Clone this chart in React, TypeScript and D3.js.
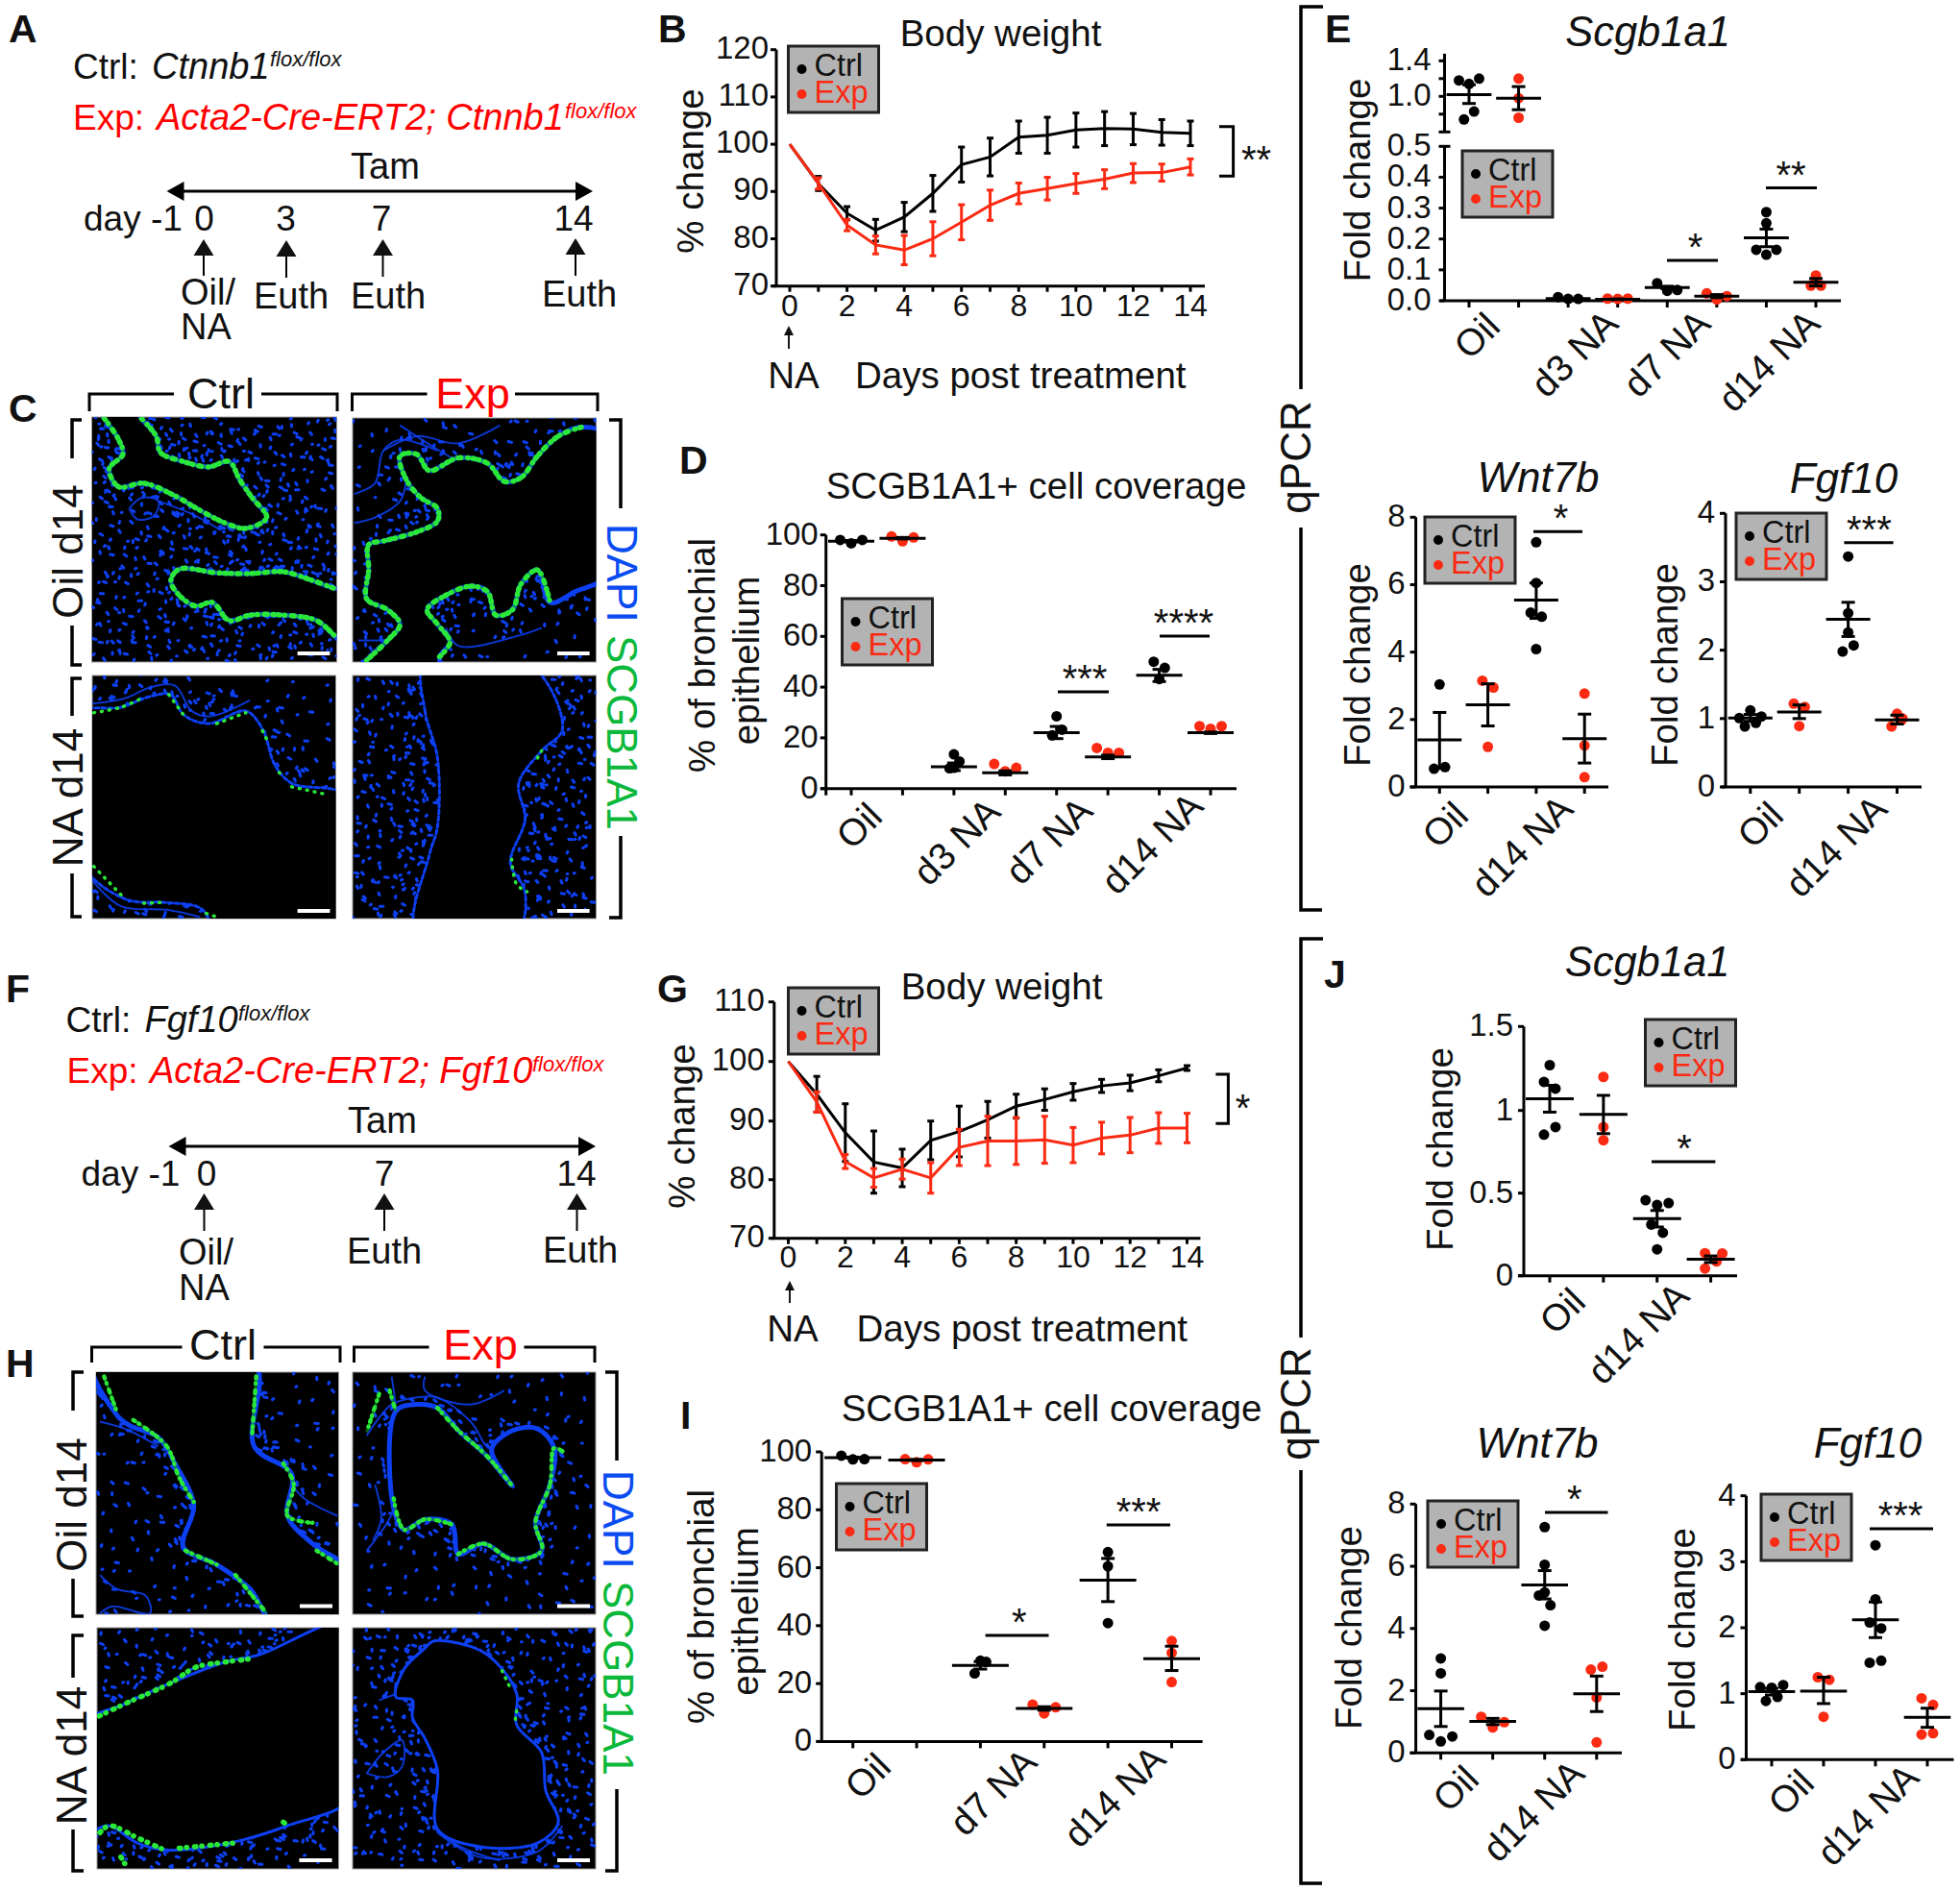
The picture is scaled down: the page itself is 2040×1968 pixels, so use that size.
import React from "react";
import * as d3 from "d3";

// ---------- DATA: body weight (panels B, G) ----------
const days = [0, 1, 2, 3, 4, 5, 6, 7, 8, 9, 10, 11, 12, 13, 14];
const dayLabels = [0, 2, 4, 6, 8, 10, 12, 14];
const bCtrl = [100, 91.7, 85.4, 81.8, 84.6, 89.6, 95.7, 97.3, 101.5, 101.9, 103, 103.3, 103.2, 102.5, 102.3];
const bCtrlErr = [0, 1.5, 1.4, 2.3, 3.1, 3.8, 3.7, 4, 3.4, 3.8, 3.6, 3.6, 3.3, 2.7, 2.6];
const bExp = [100, 91.7, 82.9, 78.7, 77.6, 80, 83.5, 87.1, 89.6, 90.6, 91.7, 92.6, 93.9, 94, 95.2];
const bExpErr = [0, 1.2, 1.2, 1.9, 3.1, 3.6, 3.7, 3.2, 2.2, 2.4, 2.1, 2, 2, 1.8, 1.7];
const gCtrl = [100, 94.5, 88, 83, 82, 86.7, 88.2, 90.2, 92.5, 93.6, 94.9, 95.9, 96.4, 97.6, 98.9];
const gCtrlErr = [0, 3, 4.9, 5.3, 3.2, 3.3, 4.3, 3.1, 2, 1.8, 1.4, 1.1, 1.3, 1, 0.4];
const gExp = [100, 93.2, 83.1, 80.3, 81.8, 80.3, 85.5, 86.6, 86.6, 86.8, 85.9, 87.1, 87.6, 88.8, 88.8];
const gExpErr = [0, 1.7, 1.2, 1.6, 1.7, 2.6, 3.1, 4.2, 4, 4, 3, 2.7, 3, 2.6, 2.5];

// ---------- DATA: dot plots ----------
const dVals = [[98, 96.7, 98], [99.4, 97.5, 99], [13.5, 10.7, 8.2, 8], [9.7, 6.8, 8.2], [28.5, 23.2, 21], [16, 14.1, 14.1], [50, 47.6, 43.2], [24.6, 23.6, 24.6]];
const dJit = [[-1, 0, 1], [-1, 0, 1], [0, 0.5, 0, -0.4], [-1, 0, 1], [0, 0.5, -0.4], [-1, 0, 1], [-0.5, 0.5, 0], [-1, 0, 1]];
const dMean = [97.5, 98.7, 8.6, 6.2, 22, 12.5, 44.7, 22];
const dHi = [97.8, 99, 10.1, 7, 24.5, 13.2, 47, 22.3];
const dLo = [97.2, 98.4, 7.1, 5.4, 19.7, 11.8, 42.2, 21.7];

const eVals = [[1.18, 1.2, 1.14, 0.83, 0.74], [1.2, 0.98, 0.76], [0.012, 0.006, 0.006], [0.007, 0.006, 0.007], [0.057, 0.032, 0.035], [0.024, 0.004, 0.015], [0.287, 0.251, 0.165, 0.165, 0.149], [0.082, 0.07, 0.049, 0.049]];
const eJit = [[-1, 1, 0, 0.5, -0.5], [0, 0, 0], [-1, 0, 1], [-1, 0, 1], [-1, 0, 1], [-1, 0, 1], [0, 0, -1, 1, 0], [0, 0, -0.5, 0.5]];
const eMean = [1.02, 0.98, 0.007, 0.005, 0.043, 0.015, 0.204, 0.06];
const eHi = [1.13, 1.11, 0.008, 0.006, 0.047, 0.02, 0.232, 0.072];
const eLo = [0.92, 0.85, 0.006, 0.004, 0.039, 0.01, 0.175, 0.048];

const wAVals = [[3.04, 0.54, 0.59], [3.15, 2.95, 1.19], [7.26, 6.05, 5.17, 5.05, 4.09], [2.77, 1.23, 0.29]];
const wAJit = [[0, -0.5, 0.5], [-0.5, 0.5, 0], [0, 0, -0.5, 0.5, 0], [0, 0, 0]];
const wAMean = [1.4, 2.44, 5.54, 1.43];
const wAHi = [2.21, 3.06, 6.05, 2.16];
const wALo = [0.55, 1.81, 5.0, 0.71];

const fAVals = [[1.007, 1.12, 1.03, 0.885, 0.937], [1.218, 1.17, 0.89], [3.37, 2.54, 2.26, 2.07, 1.98], [1.07, 1.0, 0.885, 0.98]];
const fAJit = [[-1, 0, 1, -0.5, 0.5], [-0.5, 0.5, 0], [0, 0, 0, 0.5, -0.5], [0, 0.5, -0.5, 0.4]];
const fAMean = [1.007, 1.096, 2.45, 0.98];
const fAHi = [1.06, 1.2, 2.7, 1.05];
const fALo = [0.96, 1.0, 2.2, 0.92];

const iVals = [[98.7, 97.4, 97.5], [97.5, 96.4, 97.4], [27.9, 27.5, 23.5], [12.7, 11.8, 9.7], [65.4, 60.5, 40.9], [34.7, 30.6, 20.5]];
const iJit = [[-1, 0, 1], [-1, 0, 1], [0, 0.5, -0.5], [-1, 1, 0], [0, 0, 0], [0, 0, 0]];
const iMean = [98, 97.2, 26.3, 11.4, 55.7, 28.6];
const iHi = [98.2, 97.4, 27.6, 12, 63.2, 32.9];
const iLo = [97.8, 97, 25, 10.8, 48.3, 24.5];

const jVals = [[1.27, 1.17, 1.13, 0.9, 0.854], [1.2, 0.9, 0.82], [0.457, 0.428, 0.44, 0.31, 0.26, 0.16], [0.137, 0.135, 0.087, 0.044]];
const jJit = [[0, -0.5, 0.5, 0.5, -0.5], [0, 0, 0], [-1, 0, 1, -0.5, 0.5, 0], [-0.5, 1, 0.5, -0.5]];
const jMean = [1.07, 0.976, 0.345, 0.1];
const jHi = [1.15, 1.09, 0.395, 0.12];
const jLo = [0.99, 0.86, 0.295, 0.08];

const wBVals = [[3.04, 2.56, 0.58, 0.53, 0.37], [1.16, 0.82, 0.99], [7.26, 6.05, 5.16, 5.06, 4.75, 4.09], [2.68, 2.77, 1.78, 0.34]];
const wBJit = [[0, 0, -1, 1, 0], [-1, 0, 1], [0, 0, 0, -0.5, 0.5, 0], [-0.5, 0.5, 0, 0]];
const wBMean = [1.42, 1.01, 5.4, 1.9];
const wBHi = [1.99, 1.11, 5.86, 2.47];
const wBLo = [0.85, 0.91, 4.95, 1.33];

const fBVals = [[1.1, 1.09, 1.13, 0.89, 0.95], [1.25, 1.21, 0.65], [3.25, 2.43, 2.08, 1.99, 1.47, 1.5], [0.93, 0.83, 0.38, 0.4]];
const fBJit = [[-1, 0, 1, -0.5, 0.5], [-0.5, 0.5, 0], [0, 0, -0.5, 0.5, -0.5, 0.5], [-0.5, 0.5, -0.5, 0.5]];
const fBMean = [1.03, 1.04, 2.12, 0.64];
const fBHi = [1.08, 1.25, 2.39, 0.78];
const fBLo = [0.98, 0.85, 1.85, 0.49];

const cats4 = ["Oil", "d3 NA", "d7 NA", "d14 NA"];
const cats3 = ["Oil", "d7 NA", "d14 NA"];
const cats2 = ["Oil", "d14 NA"];
const ticks100 = [0, 20, 40, 60, 80, 100];
const ticksFold8 = [0, 2, 4, 6, 8];
const ticksFold4 = [0, 1, 2, 3, 4];

// ---------- colours ----------
const INK = "#111";
const RED = "#fb2a12";
const PURE_RED = "#ff0000";
const GRAY = "#b3b3b3";
const BLUE = "#0b3ff2";
const GREEN = "#2ce838";
const GREEN_DIM = "#119a26";
const DAPI_TEXT = "#0a4cf0";
const SCGB_TEXT = "#0cb83a";
const FONT = "'Liberation Sans', Arial, sans-serif";

type TP = { x: number; y: number; s?: number; a?: "start" | "middle" | "end"; f?: string; b?: boolean; i?: boolean; r?: number; children: React.ReactNode };
const T = ({ x, y, s = 33, a = "start", f = INK, b, i, r, children }: TP) => (
  <text
    x={r === undefined ? x : 0}
    y={r === undefined ? y : 0}
    transform={r === undefined ? undefined : `translate(${x},${y}) rotate(${r})`}
    fontSize={s}
    textAnchor={a}
    fill={f}
    fontWeight={b ? 700 : 400}
    fontStyle={i ? "italic" : "normal"}
  >
    {children}
  </text>
);

const Ln = ({ p, w = 3, c = "#000" }: { p: number[][]; w?: number; c?: string }) => (
  <path d={d3.line()(p as [number, number][]) as string} fill="none" stroke={c} strokeWidth={w} />
);

const Legend = ({ x, y }: { x: number; y: number }) => (
  <g>
    <rect x={x} y={y} width={94} height={69} fill={GRAY} stroke="#222" strokeWidth={3} />
    <circle cx={x + 14} cy={y + 24} r={5} fill="#000" />
    <circle cx={x + 14} cy={y + 50} r={5} fill={RED} />
    <T x={x + 27} y={y + 31} s={32.5}>Ctrl</T>
    <T x={x + 27} y={y + 59} s={32.5} f={RED}>Exp</T>
  </g>
);

const Stars = ({ t, x, y, x1, x2 }: { t: string; x: number; y: number; x1?: number; x2?: number }) => (
  <g>
    <T x={x} y={y} s={40} a="middle">{t}</T>
    {x1 !== undefined && x2 !== undefined && <Ln p={[[x1, y], [x2, y]]} />}
  </g>
);

// ---------- Dot plot ----------
type DotCfg = {
  vals: number[][]; jit: number[][]; mean: number[]; hi: number[]; lo: number[];
  ax: number; x0: number; x1: number; xEnd: number; xStart: number;
  yDom: number[]; yRng: number[]; ticks: number[]; labels: string[];
  half: number; jitPx?: number; originTick?: boolean; segs?: number[][]; breaks?: number[];
  cats: string[]; catX: number[]; catY: number[]; labelGap?: number;
};
const DotPlot = (c: DotCfg) => {
  const n = c.vals.length;
  const x = d3.scaleLinear().domain([0, n - 1]).range([c.x0, c.x1]);
  const y = d3.scaleLinear().domain(c.yDom).range(c.yRng);
  const base = y(0);
  const segs = c.segs ?? [[0, d3.max(c.ticks) as number]];
  const jp = c.jitPx ?? 11.5;
  return (
    <g>
      {segs.map((s, i) => <Ln key={i} p={[[c.ax, y(s[0])], [c.ax, y(s[1])]]} />)}
      <Ln p={[[c.xStart, base], [c.xEnd, base]]} />
      {c.ticks.map((t, i) => (
        <g key={i}>
          <Ln p={[[c.ax - 6, y(t)], [c.breaks?.includes(t) ? c.ax + 6 : c.ax, y(t)]]} />
          {c.labels[i] && <T x={c.ax - (c.labelGap ?? 11)} y={y(t) + 10} a="end">{c.labels[i]}</T>}
        </g>
      ))}
      {d3.range(n).map(i => <Ln key={i} p={[[x(i), base], [x(i), base + 7]]} />)}
      {c.originTick && <Ln p={[[c.ax, base], [c.ax, base + 7]]} />}
      {c.vals.map((g, i) => (
        <g key={i}>
          {g.map((v, j) => (
            <circle key={j} cx={x(i) + c.jit[i][j] * jp} cy={y(v)} r={5.5} fill={i % 2 ? RED : "#000"} />
          ))}
          <Ln p={[[x(i) - c.half, y(c.mean[i])], [x(i) + c.half, y(c.mean[i])]]} />
          <Ln p={[[x(i), y(c.hi[i])], [x(i), y(c.lo[i])]]} />
          <Ln p={[[x(i) - 7, y(c.hi[i])], [x(i) + 7, y(c.hi[i])]]} />
          <Ln p={[[x(i) - 7, y(c.lo[i])], [x(i) + 7, y(c.lo[i])]]} />
        </g>
      ))}
      {c.cats.map((t, i) => <T key={t} x={c.catX[i] + 2.5} y={c.catY[i]} s={39} a="end" r={-45}>{t}</T>)}
    </g>
  );
};

// ---------- Line chart ----------
type LineCfg = {
  ctrl: number[]; ctrlErr: number[]; exp: number[]; expErr: number[];
  ax: number; x0: number; x1: number; xEnd: number; gap: number;
  yDom: number[]; yRng: number[]; ticks: number[]; tickBase: number;
};
const LineChart = (c: LineCfg) => {
  const x = d3.scaleLinear().domain([0, 14]).range([c.x0, c.x1]);
  const y = d3.scaleLinear().domain(c.yDom).range(c.yRng);
  const line = d3.line<number>().x((_, i) => x(days[i])).y(v => y(v));
  const series = (vals: number[], err: number[], col: string) => (
    <g>
      {vals.map((v, i) => err[i] > 0 && (
        <g key={i}>
          <Ln c={col} p={[[x(days[i]), y(v - err[i])], [x(days[i]), y(v + err[i])]]} />
          <Ln c={col} p={[[x(days[i]) - 3.5, y(v + err[i])], [x(days[i]) + 3.5, y(v + err[i])]]} />
          <Ln c={col} p={[[x(days[i]) - 3.5, y(v - err[i])], [x(days[i]) + 3.5, y(v - err[i])]]} />
        </g>
      ))}
      <path d={line(vals) as string} fill="none" stroke={col} strokeWidth={3} />
    </g>
  );
  return (
    <g>
      <Ln p={[[c.ax, y(c.ticks[c.ticks.length - 1])], [c.ax, c.yRng[0]]]} />
      <Ln p={[[c.ax - 4, c.yRng[0]], [c.xEnd, c.yRng[0]]]} />
      {c.ticks.map(t => (
        <g key={t}>
          <Ln p={[[c.ax - 6, y(t)], [c.ax, y(t)]]} />
          <T x={c.ax - c.gap} y={y(t) + 9} a="end">{t}</T>
        </g>
      ))}
      {days.map(d => <Ln key={d} p={[[x(d), c.yRng[0]], [x(d), c.yRng[0] + 6]]} />)}
      {dayLabels.map(d => <T key={d} x={x(d)} y={c.tickBase} s={32} a="middle">{d}</T>)}
      {series(c.ctrl, c.ctrlErr, "#000")}
      {series(c.exp, c.expErr, RED)}
    </g>
  );
};

// ---------- Micrograph panels (decorative drawing of the tissue images) ----------
type Pt = [number, number];
type Micro = {
  x: number; y: number; w: number; h: number; bar: number[];
  lumens: Pt[][]; green: Pt[][]; fibers: Pt[][]; dense?: number; seed: number;
  rich?: boolean; edgeDots?: boolean; band?: number; gw?: number;
};
const cPt = (l: Pt[]): Pt[] => l.map(p => [p[0] / 2.306, 390 + p[1] / 2.658]);
const hPt = (l: Pt[]): Pt[] => l.map(p => [p[0] / 2.306, 1400 + p[1] / 2.76]);

const c1Lumen1: Pt[] = [[240, 90], [250, 120], [285, 180], [295, 220], [262, 260], [285, 310], [345, 300], [420, 335], [480, 375], [540, 410], [590, 425], [640, 395], [605, 340], [575, 290], [550, 240], [500, 255], [440, 240], [385, 215], [375, 170], [340, 122], [320, 90]];
const c1Lumen2: Pt[] = [[840, 600], [800, 590], [740, 565], [680, 545], [600, 550], [520, 548], [430, 538], [410, 570], [430, 610], [470, 640], [510, 630], [550, 680], [600, 665], [680, 665], [760, 680], [805, 725], [840, 760]];
const c2Lumen: Pt[] = [[1460, 170], [1395, 145], [1340, 170], [1290, 225], [1250, 285], [1210, 295], [1170, 245], [1100, 230], [1030, 265], [1000, 220], [960, 225], [975, 290], [1010, 340], [1050, 370], [1050, 405], [1000, 435], [920, 460], [885, 470], [885, 540], [880, 620], [930, 650], [960, 690], [930, 735], [880, 790], [870, 830], [1060, 830], [1055, 780], [1080, 740], [1050, 690], [1025, 650], [1070, 610], [1130, 585], [1170, 600], [1190, 665], [1230, 650], [1250, 580], [1290, 540], [1320, 630], [1380, 600], [1460, 550]];
const c3Lumen: Pt[] = [[190, 938], [290, 920], [360, 890], [410, 885], [440, 940], [500, 965], [590, 930], [630, 980], [660, 1080], [700, 1130], [840, 1170], [840, 1540], [530, 1540], [480, 1475], [400, 1460], [300, 1450], [190, 1340]];
const c4Lumen: Pt[] = [[1020, 800], [1020, 930], [1050, 1060], [1050, 1250], [1030, 1330], [1000, 1540], [1240, 1540], [1260, 1430], [1225, 1350], [1260, 1230], [1245, 1130], [1300, 1040], [1350, 980], [1270, 800]];

const h1Lumen: Pt[] = [[225, 50], [280, 200], [310, 230], [380, 265], [420, 340], [465, 460], [440, 580], [520, 630], [600, 700], [660, 800], [840, 800], [840, 650], [750, 570], [690, 490], [700, 370], [610, 290], [610, 50]];
const h2Lumen: Pt[] = [[950, 190], [1000, 170], [1050, 180], [1100, 245], [1170, 320], [1230, 405], [1180, 300], [1230, 245], [1290, 240], [1330, 295], [1320, 400], [1285, 510], [1300, 590], [1230, 615], [1160, 570], [1100, 600], [1085, 515], [1020, 500], [970, 530], [945, 470]];
const h3Lumen: Pt[] = [[200, 1090], [300, 1030], [410, 970], [540, 910], [620, 890], [850, 800], [850, 1290], [690, 1380], [550, 1430], [400, 1450], [330, 1430], [260, 1380], [200, 1400]];
const h4Lumen: Pt[] = [[1040, 850], [1140, 870], [1190, 910], [1240, 1000], [1240, 1090], [1300, 1170], [1310, 1280], [1340, 1370], [1290, 1430], [1150, 1440], [1050, 1390], [1050, 1220], [1020, 1130], [990, 1070], [990, 1020], [950, 1010], [970, 930], [1020, 870]];

const microPanels: Micro[] = [
  {
    x: 95.5, y: 434, w: 255, h: 255, bar: [309.6, 343.4, 680], seed: 3, rich: true,
    lumens: [cPt(c1Lumen1), cPt(c1Lumen2)],
    green: [cPt(c1Lumen1.slice(1, 20)), cPt(c1Lumen2.slice(1, 16))],
    fibers: [cPt([[310, 370], [340, 340], [380, 350], [370, 390], [330, 400], [310, 370]]), cPt([[380, 350], [460, 385], [530, 430]])],
    dense: 300, band: 10,
  },
  {
    x: 367, y: 435, w: 253.5, h: 254, bar: [580, 613.6, 680], seed: 5, rich: true,
    lumens: [cPt(c2Lumen)],
    green: [cPt(c2Lumen.slice(1, 24)), cPt(c2Lumen.slice(26, 38))],
    fibers: [cPt([[850, 330], [900, 300], [920, 210], [960, 180], [1050, 210]]), cPt([[850, 410], [900, 395], [960, 350], [975, 290]]), cPt([[920, 210], [1000, 170], [1100, 190], [1200, 140]]), cPt([[960, 140], [1040, 200], [1100, 240]]), cPt([[1070, 700], [1100, 750], [1250, 720], [1300, 700]]), cPt([[860, 735], [930, 735]])],
    dense: 90, band: 14,
  },
  {
    x: 96, y: 703, w: 253.5, h: 253, bar: [309.6, 343.4, 948], seed: 7, edgeDots: true,
    lumens: [cPt(c3Lumen)],
    green: [cPt([[225, 935], [290, 920], [345, 892]]), cPt([[405, 885], [440, 940]]), cPt([[520, 965], [590, 935]]), cPt([[630, 985], [645, 1020]]), cPt([[670, 1100], [680, 1115]]), cPt([[700, 1140], [780, 1160]]), cPt([[225, 1360], [300, 1450]]), cPt([[345, 1462], [385, 1460]]), cPt([[495, 1490], [520, 1500]])],
    fibers: [cPt([[222, 910], [300, 895], [360, 865], [420, 860], [460, 930], [505, 945], [600, 900]]), cPt([[222, 1400], [290, 1470], [400, 1480], [480, 1500]])],
    dense: 90, band: 16,
  },
  {
    x: 367, y: 703, w: 253.5, h: 253, bar: [580, 613.6, 948], seed: 11, edgeDots: true,
    lumens: [cPt(c4Lumen)],
    green: [cPt([[1290, 1060], [1300, 1040]]), cPt([[1228, 1340], [1240, 1410], [1265, 1430]])],
    fibers: [],
    dense: 260, band: 18,
  },
  {
    x: 100, y: 1428, w: 252.5, h: 252, bar: [312, 346, 1671.5], seed: 13, rich: true,
    lumens: [hPt(h1Lumen)],
    green: [hPt([[250, 90], [280, 190]]), hPt([[320, 215], [400, 290], [430, 380], [465, 450]]), hPt([[445, 590], [520, 630]]), hPt([[565, 660], [640, 770]]), hPt([[615, 90], [605, 260]]), hPt([[680, 340], [705, 400], [690, 490], [750, 510]]), hPt([[760, 590], [813, 630]])],
    fibers: [hPt([[240, 660], [280, 700], [350, 720], [360, 770], [270, 750], [240, 770]]), hPt([[240, 220], [300, 240], [380, 290]]), hPt([[700, 400], [730, 440], [810, 490]])],
    dense: 100, band: 8, gw: 4.5,
  },
  {
    x: 367, y: 1428, w: 253, h: 252, bar: [580, 614, 1671.5], seed: 17, rich: true,
    lumens: [hPt(h2Lumen)],
    green: [hPt([[910, 140], [880, 250]]), hPt([[935, 130], [950, 190]]), hPt([[945, 440], [970, 530], [1020, 500], [1085, 515]]), hPt([[1100, 600], [1160, 570], [1230, 615], [1300, 590], [1285, 510], [1320, 400], [1330, 295], [1350, 305]]), hPt([[1050, 180], [1100, 245], [1170, 320], [1230, 405]])],
    fibers: [hPt([[940, 90], [950, 190], [945, 470], [900, 560], [880, 590]]), hPt([[880, 260], [940, 170], [1000, 150], [1050, 150], [1130, 220], [1180, 300], [1260, 235]]), hPt([[1020, 90], [1020, 130], [1130, 170], [1210, 130]]), hPt([[900, 400], [915, 500], [895, 560]])],
    dense: 90, band: 8, gw: 4.5,
  },
  {
    x: 101, y: 1694, w: 251.5, h: 251, bar: [311.4, 345.6, 1936], seed: 19, gw: 5.5,
    lumens: [hPt(h3Lumen)],
    green: [hPt([[238, 1065], [300, 1030], [410, 970], [470, 925], [540, 910], [610, 900]]), hPt([[240, 1400], [262, 1380], [330, 1415], [395, 1450]]), hPt([[430, 1445], [560, 1430]]), hPt([[680, 1370], [690, 1378]]), hPt([[290, 1470], [305, 1500]])],
    fibers: [],
    dense: 170, band: 14,
  },
  {
    x: 367, y: 1694, w: 253, h: 251, bar: [580, 614, 1936], seed: 23,
    lumens: [hPt(h4Lumen)],
    green: [hPt([[1205, 935], [1225, 985]]), hPt([[1240, 1050], [1235, 1090]])],
    fibers: [hPt([[880, 1230], [920, 1170], [965, 1135], [965, 1210], [930, 1240], [880, 1230]]), hPt([[990, 1020], [970, 1000], [910, 1020]]), hPt([[1050, 1400], [1150, 1470], [1290, 1455], [1350, 1380]]), hPt([[1040, 1300], [1080, 1420], [1200, 1480]])],
    dense: 230, band: 10,
  },
];

const frac = (v: number) => v - Math.floor(v);
const blip = (d: string[], px: number, py: number, i: number) => {
  const ang = frac(i * 0.381966) * Math.PI;
  const len = 0.4 + 1.4 * frac(i * 0.618);
  d.push(`M${(px - Math.cos(ang) * len).toFixed(1)} ${(py - Math.sin(ang) * len).toFixed(1)}L${(px + Math.cos(ang) * len).toFixed(1)} ${(py + Math.sin(ang) * len).toFixed(1)}`);
};
const speckle = (m: Micro) => {
  const d: string[] = [];
  const n = (m.dense ?? 150) * 2;
  for (let i = 1; i <= n; i++) {
    const px = m.x + m.w * frac(i * 0.7548776662 + m.seed * 0.31 + 0.05 * frac(Math.sin(i * 12.9898) * 43758.5));
    const py = m.y + m.h * frac(i * 0.5698402910 + m.seed * 0.17 + 0.05 * frac(Math.sin(i * 78.233) * 43758.5));
    if (m.lumens.some(l => d3.polygonContains(l, [px, py]))) continue;
    blip(d, px, py, i);
  }
  // nuclei crowding along the airway wall
  if (m.band) {
    m.lumens.forEach((l, li) => {
      l.forEach((p, k) => {
        const q = l[(k + 1) % l.length];
        const seg = Math.hypot(q[0] - p[0], q[1] - p[1]);
        const count = Math.round(seg / 3.2);
        for (let s = 0; s < count; s++) {
          const t = frac(s * 0.618034 + k * 0.37 + li * 0.11);
          const side = frac(s * 0.7548776662 + k * 0.21);
          const nx = -(q[1] - p[1]) / (seg || 1);
          const ny = (q[0] - p[0]) / (seg || 1);
          const off = (side - 0.5) * 2 * (m.band as number) * 1.6;
          blip(d, p[0] + (q[0] - p[0]) * t + nx * off, p[1] + (q[1] - p[1]) * t + ny * off, s + k * 7);
        }
      });
    });
  }
  return d.join("");
};
const smooth = d3.line().curve(d3.curveCatmullRom);
const smoothClosed = d3.line().curve(d3.curveCatmullRomClosed);

const Micrograph = ({ m, id }: { m: Micro; id: string }) => (
  <g>
    <clipPath id={id}><rect x={m.x} y={m.y} width={m.w} height={m.h} /></clipPath>
    <rect x={m.x} y={m.y} width={m.w} height={m.h} fill="#000" stroke="#999" strokeWidth={1} />
    <g clipPath={`url(#${id})`}>
      <g filter="url(#soft)">
        <path d={speckle(m)} stroke={BLUE} strokeWidth={3.1} strokeLinecap="round" fill="none" />
        {m.fibers.map((f, i) => <path key={i} d={smooth(f) as string} stroke={BLUE} strokeWidth={2} fill="none" opacity={0.85} />)}
        {m.lumens.map((l, i) => (
          <g key={i}>
            <path d={smoothClosed(l) as string} fill="#000" />
            <path
              d={smoothClosed(l) as string}
              fill="none"
              stroke={BLUE}
              strokeWidth={m.rich ? 5 : 3}
              strokeDasharray={m.edgeDots ? "4 3" : undefined}
              strokeLinecap="round"
            />
          </g>
        ))}
        {m.green.map((g, i) => (
          <g key={i}>
            {m.rich && <path d={smooth(g) as string} fill="none" stroke={GREEN_DIM} strokeWidth={3} opacity={0.65} />}
            <path
              d={smooth(g) as string}
              fill="none"
              stroke={GREEN}
              strokeWidth={m.gw ?? (m.rich ? 5.5 : 3.5)}
              strokeLinecap="round"
              strokeDasharray={m.rich ? "2 5 0.5 7 3 6 1 4" : m.gw ? "1.5 6 0.5 8" : "1 7"}
            />
          </g>
        ))}
      </g>
      <rect x={m.bar[0]} y={m.bar[2] - 2} width={m.bar[1] - m.bar[0]} height={4} fill="#fff" />
    </g>
  </g>
);

// bracket helpers
const TopBracket = ({ x1, x2, y, d, g1, g2 }: { x1: number; x2: number; y: number; d: number; g1: number; g2: number }) => (
  <g>
    <Ln p={[[x1, y + d], [x1, y], [g1, y]]} />
    <Ln p={[[g2, y], [x2, y], [x2, y + d]]} />
  </g>
);
const SideBracket = ({ xIn, xOut, y1, y2, y3, y4 }: { xIn: number; xOut: number; y1: number; y2: number; y3: number; y4: number }) => (
  <g>
    <Ln p={[[xIn, y1], [xOut, y1], [xOut, y2]]} w={3.5} />
    <Ln p={[[xOut, y3], [xOut, y4], [xIn, y4]]} w={3.5} />
  </g>
);

const Triangle = ({ x, tip, base, hw }: { x: number; tip: number; base: number; hw: number }) => (
  <path d={`M${x} ${tip}L${x + hw} ${base}L${x - hw} ${base}Z`} fill="#111" />
);
const UpArrow = ({ x, tip, base, tail }: { x: number; tip: number; base: number; tail: number }) => (
  <g>
    <Triangle x={x} tip={tip} base={base} hw={10.5} />
    <Ln p={[[x, base], [x, tail]]} w={2} />
  </g>
);
const Span = ({ x1, x2, y }: { x1: number; x2: number; y: number }) => (
  <g>
    <Ln p={[[x1 + 10, y], [x2 - 10, y]]} w={3} />
    <path d={`M${x1} ${y}L${x1 + 18} ${y - 10}L${x1 + 18} ${y + 10}Z`} fill="#000" />
    <path d={`M${x2} ${y}L${x2 - 18} ${y - 10}L${x2 - 18} ${y + 10}Z`} fill="#000" />
  </g>
);
const SmallArrow = ({ x, tip, tail }: { x: number; tip: number; tail: number }) => (
  <g>
    <path d={`M${x} ${tip}L${x + 5} ${tip + 10}L${x - 5} ${tip + 10}Z`} fill="#111" />
    <Ln p={[[x, tip + 8], [x, tail]]} w={1.8} />
  </g>
);

export default function App() {
  return (
    <svg
      width={2040}
      height={1968}
      viewBox="0 0 2040 1968"
      style={{ position: "absolute", left: 0, top: 0, background: "#fff", fontFamily: FONT }}
    >
      <defs>
        <filter id="soft" x="-2%" y="-2%" width="104%" height="104%">
          <feGaussianBlur stdDeviation="0.6" />
        </filter>
      </defs>

      {/* panel letters */}
      <T x={9} y={44} s={41} b>A</T>
      <T x={685} y={44} s={41} b>B</T>
      <T x={9} y={439} s={41} b>C</T>
      <T x={707} y={493} s={41} b>D</T>
      <T x={1379} y={44} s={41} b>E</T>
      <T x={6} y={1043} s={41} b>F</T>
      <T x={684} y={1043} s={41} b>G</T>
      <T x={6} y={1433} s={41} b>H</T>
      <T x={708} y={1487} s={41} b>I</T>
      <T x={1378} y={1028} s={41} b>J</T>

      {/* A */}
      <T x={76} y={82} s={37}>Ctrl:</T>
      <T x={158} y={82} s={38} i>Ctnnb1</T>
      <T x={281} y={69} s={22} i>flox/flox</T>
      <T x={76} y={135} s={37} f={PURE_RED}>Exp:</T>
      <T x={163} y={135} s={38} i f={PURE_RED}>Acta2-Cre-ERT2; Ctnnb1</T>
      <T x={588} y={123} s={22} i f={PURE_RED}>flox/flox</T>
      <T x={401} y={186} s={38} a="middle">Tam</T>
      <Span x1={173.5} x2={617} y={199} />
      <T x={87} y={240} s={37}>day -1</T>
      <T x={212.5} y={240} s={37} a="middle">0</T>
      <T x={297.5} y={240} s={37} a="middle">3</T>
      <T x={397} y={240} s={37} a="middle">7</T>
      <T x={597} y={240} s={37} a="middle">14</T>
      <UpArrow x={212} tip={249} base={266} tail={287} />
      <UpArrow x={298} tip={250} base={267} tail={289} />
      <UpArrow x={398.5} tip={249} base={266} tail={288} />
      <UpArrow x={599} tip={248} base={265} tail={287} />
      <T x={188} y={317} s={38}>Oil/</T>
      <T x={188} y={353} s={38}>NA</T>
      <T x={264} y={321} s={38}>Euth</T>
      <T x={365} y={321} s={38}>Euth</T>
      <T x={564} y={319} s={38}>Euth</T>

      {/* F */}
      <T x={68.5} y={1074} s={37}>Ctrl:</T>
      <T x={150.5} y={1074} s={38} i>Fgf10</T>
      <T x={248} y={1062} s={22} i>flox/flox</T>
      <T x={69.5} y={1127} s={37} f={PURE_RED}>Exp:</T>
      <T x={156} y={1127} s={38} i f={PURE_RED}>Acta2-Cre-ERT2; Fgf10</T>
      <T x={554} y={1115} s={22} i f={PURE_RED}>flox/flox</T>
      <T x={398} y={1179} s={38} a="middle">Tam</T>
      <Span x1={175.5} x2={620} y={1193} />
      <T x={84.5} y={1234} s={37}>day -1</T>
      <T x={215} y={1234} s={37} a="middle">0</T>
      <T x={400} y={1234} s={37} a="middle">7</T>
      <T x={600} y={1234} s={37} a="middle">14</T>
      <UpArrow x={212.5} tip={1242} base={1259} tail={1281} />
      <UpArrow x={400} tip={1242} base={1259} tail={1281} />
      <UpArrow x={600.5} tip={1242} base={1259} tail={1281} />
      <T x={186} y={1316} s={38}>Oil/</T>
      <T x={186} y={1353} s={38}>NA</T>
      <T x={361} y={1315} s={38}>Euth</T>
      <T x={565} y={1314} s={38}>Euth</T>

      {/* micrographs */}
      {microPanels.map((m, i) => <Micrograph key={i} m={m} id={`mg${i}`} />)}

      {/* C labels */}
      <T x={230} y={425} s={45} a="middle">Ctrl</T>
      <T x={492} y={425} s={45} a="middle" f={PURE_RED}>Exp</T>
      <TopBracket x1={93} x2={351} y={410} d={18} g1={181} g2={272} />
      <TopBracket x1={366.5} x2={622} y={410} d={18} g1={444.5} g2={536} />
      <SideBracket xIn={85} xOut={75} y1={437} y2={477} y3={651} y4={692} />
      <SideBracket xIn={85} xOut={75} y1={706} y2={745} y3={909} y4={954} />
      <T x={86} y={574} s={44} a="middle" r={-90}>Oil d14</T>
      <T x={86} y={830} s={44} a="middle" r={-90}>NA d14</T>
      <SideBracket xIn={634} xOut={646} y1={437} y2={529} y3={870} y4={955} />
      <T x={632} y={545} s={44} r={90} f={DAPI_TEXT}>DAPI</T>
      <T x={632} y={661} s={44} r={90} f={SCGB_TEXT}>SCGB1A1</T>

      {/* H labels */}
      <T x={232} y={1415} s={45} a="middle">Ctrl</T>
      <T x={500} y={1415} s={45} a="middle" f={PURE_RED}>Exp</T>
      <TopBracket x1={95.5} x2={354} y={1402} d={16} g1={189.5} g2={274.5} />
      <TopBracket x1={368.5} x2={619} y={1402} d={16} g1={446.5} g2={545.5} />
      <SideBracket xIn={87} xOut={76} y1={1428} y2={1468} y3={1643} y4={1682} />
      <SideBracket xIn={87} xOut={76} y1={1702} y2={1746} y3={1904} y4={1947} />
      <T x={89.5} y={1566} s={44} a="middle" r={-90}>Oil d14</T>
      <T x={89.5} y={1827} s={44} a="middle" r={-90}>NA d14</T>
      <SideBracket xIn={630} xOut={642} y1={1428} y2={1520} y3={1862} y4={1947} />
      <T x={628} y={1530} s={44} r={90} f={DAPI_TEXT}>DAPI</T>
      <T x={628} y={1645} s={44} r={90} f={SCGB_TEXT}>SCGB1A1</T>

      {/* B */}
      <LineChart ctrl={bCtrl} ctrlErr={bCtrlErr} exp={bExp} expErr={bExpErr} ax={808} x0={822} x1={1239} xEnd={1254} gap={8}
        yDom={[70, 120]} yRng={[297.7, 51.7]} ticks={[70, 80, 90, 100, 110, 120]} tickBase={329} />
      <Legend x={820.5} y={48} />
      <T x={1041.5} y={48} s={38.5} a="middle">Body weight</T>
      <T x={732} y={178} s={38.5} a="middle" r={-90}>% change</T>
      <SmallArrow x={821} tip={339} tail={363} />
      <T x={826} y={404} s={38.5} a="middle">NA</T>
      <T x={890} y={404} s={38.5}>Days post treatment</T>
      <Ln p={[[1269, 131.7], [1283.6, 131.7], [1283.6, 183.3], [1269, 183.3]]} />
      <T x={1307.5} y={180} s={40} a="middle">**</T>

      {/* G */}
      <LineChart ctrl={gCtrl} ctrlErr={gCtrlErr} exp={gExp} expErr={gExpErr} ax={805.8} x0={820.5} x1={1235.5} xEnd={1249.4} gap={10}
        yDom={[70, 80, 90, 100, 110]} yRng={[1288.7, 1227.7, 1166.7, 1104.7, 1042.7]} ticks={[70, 80, 90, 100, 110]} tickBase={1319} />
      <Legend x={820.5} y={1028} />
      <T x={1042.5} y={1040} s={38.5} a="middle">Body weight</T>
      <T x={723} y={1172} s={38.5} a="middle" r={-90}>% change</T>
      <SmallArrow x={822} tip={1333} tail={1356} />
      <T x={825} y={1396} s={38.5} a="middle">NA</T>
      <T x={891.5} y={1396} s={38.5}>Days post treatment</T>
      <Ln p={[[1265.4, 1118], [1278.4, 1118], [1278.4, 1169.3], [1265.4, 1169.3]]} />
      <T x={1293.6} y={1167} s={40} a="middle">*</T>

      {/* D */}
      <DotPlot vals={dVals} jit={dJit} mean={dMean} hi={dHi} lo={dLo} ax={859.7} x0={886} x1={1260} xStart={854} xEnd={1287} labelGap={8}
        yDom={[0, 100]} yRng={[820.7, 556.7]} ticks={ticks100} labels={ticks100.map(String)} half={24} originTick
        cats={cats4} catX={[918, 1041, 1137, 1252]} catY={[852, 847, 846, 841]} />
      <Legend x={876.5} y={623} />
      <T x={1078.5} y={519} s={38.5} a="middle">SCGB1A1+ cell coverage</T>
      <T x={744} y={682} s={38.5} a="middle" r={-90}>% of bronchial</T>
      <T x={790} y={687.5} s={38.5} a="middle" r={-90}>epithelium</T>
      <Stars t="***" x={1129} y={720} x1={1101} x2={1154} />
      <Stars t="****" x={1232} y={662} x1={1207} x2={1259} />

      {/* I */}
      <DotPlot vals={iVals} jit={iJit} mean={iMean} hi={iHi} lo={iLo} ax={855.2} x0={887.7} x1={1219.5} xStart={850} xEnd={1251.6} labelGap={10}
        yDom={[0, 100]} yRng={[1812.4, 1511]} ticks={ticks100} labels={ticks100.map(String)} half={29.5} jitPx={12}
        cats={cats3} catX={[927, 1079, 1213]} catY={[1841, 1836, 1833]} />
      <Legend x={870.5} y={1544} />
      <T x={1094.5} y={1479} s={38.5} a="middle">SCGB1A1+ cell coverage</T>
      <T x={743} y={1672} s={38.5} a="middle" r={-90}>% of bronchial</T>
      <T x={788.5} y={1677} s={38.5} a="middle" r={-90}>epithelium</T>
      <Stars t="*" x={1060.7} y={1702} x1={1025.6} x2={1091.5} />
      <Stars t="***" x={1185} y={1587} x1={1151.8} x2={1218} />

      {/* qPCR brackets */}
      <Ln p={[[1377, 7], [1354, 7], [1354, 405]]} w={3.5} />
      <Ln p={[[1354, 549], [1354, 947], [1376, 947]]} w={3.5} />
      <T x={1364} y={476} s={44} a="middle" r={-90}>qPCR</T>
      <Ln p={[[1377, 977], [1354, 977], [1354, 1392]]} w={3.5} />
      <Ln p={[[1354, 1530], [1354, 1960], [1376, 1960]]} w={3.5} />
      <T x={1364} y={1461} s={44} a="middle" r={-90}>qPCR</T>

      {/* E */}
      <DotPlot vals={eVals} jit={eJit} mean={eMean} hi={eHi} lo={eLo} ax={1503.5} x0={1529} x1={1890} xStart={1499} xEnd={1916}
        yDom={[0, 0.5, 0.6, 1.4]} yRng={[313, 152.3, 137.3, 63.3]}
        ticks={[0, 0.1, 0.2, 0.3, 0.4, 0.5, 0.6, 0.8, 1.0, 1.2, 1.4]} labels={["0.0", "0.1", "0.2", "0.3", "0.4", "0.5", "", "", "1.0", "", "1.4"]}
        half={23.4} jitPx={10.5} segs={[[0, 0.5], [0.6, 1.48]]} breaks={[0.5, 0.6]} labelGap={14}
        cats={cats4} catX={[1561, 1684, 1780, 1894]} catY={[342, 339, 339, 339]} />
      <Legend x={1522} y={157} />
      <T x={1715} y={48} s={43.5} a="middle" i>Scgb1a1</T>
      <T x={1426} y={187.5} s={38.5} a="middle" r={-90}>Fold change</T>
      <Stars t="*" x={1764.6} y={271} x1={1735} x2={1788} />
      <Stars t="**" x={1864} y={195.5} x1={1838} x2={1891} />

      {/* Wnt7b upper */}
      <DotPlot vals={wAVals} jit={wAJit} mean={wAMean} hi={wAHi} lo={wALo} ax={1473.6} x0={1498.3} x1={1649.2} xStart={1467.5} xEnd={1674}
        yDom={[0, 8]} yRng={[819, 538.3]} ticks={ticksFold8} labels={ticksFold8.map(String)} half={23}
        cats={cats2} catX={[1528, 1637]} catY={[851, 844]} />
      <Legend x={1483} y={538} />
      <T x={1601} y={512} s={44} a="middle" i>Wnt7b</T>
      <T x={1426} y={692} s={38.5} a="middle" r={-90}>Fold change</T>
      <Stars t="*" x={1624.5} y={553.3} x1={1596} x2={1647} />

      {/* Fgf10 upper */}
      <DotPlot vals={fAVals} jit={fAJit} mean={fAMean} hi={fAHi} lo={fALo} ax={1796} x0={1821.8} x1={1974.5} xStart={1791.5} xEnd={2000}
        yDom={[0, 4]} yRng={[819, 534.3]} ticks={ticksFold4} labels={ticksFold4.map(String)} half={23}
        cats={cats2} catX={[1856, 1964]} catY={[851, 844]} />
      <Legend x={1807} y={534} />
      <T x={1919} y={513} s={44} a="middle" i>Fgf10</T>
      <T x={1746} y={692} s={38.5} a="middle" r={-90}>Fold change</T>
      <Stars t="***" x={1945.4} y={564.7} x1={1919.4} x2={1970.6} />

      {/* J */}
      <DotPlot vals={jVals} jit={jJit} mean={jMean} hi={jHi} lo={jLo} ax={1586} x0={1613} x1={1780.6} xStart={1580} xEnd={1808}
        yDom={[0, 0.5, 1, 1.5]} yRng={[1327.7, 1241.7, 1155.7, 1068.3]} ticks={[0, 0.5, 1, 1.5]} labels={["0", "0.5", "1", "1.5"]} half={25} jitPx={12}
        cats={cats2} catX={[1650, 1758]} catY={[1357, 1351]} />
      <Legend x={1712.5} y={1061} />
      <T x={1714.5} y={1016} s={43.5} a="middle" i>Scgb1a1</T>
      <T x={1512} y={1196} s={38.5} a="middle" r={-90}>Fold change</T>
      <Stars t="*" x={1753} y={1209} x1={1719} x2={1785.4} />

      {/* Wnt7b lower */}
      <DotPlot vals={wBVals} jit={wBJit} mean={wBMean} hi={wBHi} lo={wBLo} ax={1473.6} x0={1499.6} x1={1661.8} xStart={1467.5} xEnd={1688}
        yDom={[0, 8]} yRng={[1824.3, 1565.3]} ticks={ticksFold8} labels={ticksFold8.map(String)} half={24.3} jitPx={12}
        cats={cats2} catX={[1539, 1649]} catY={[1854, 1848]} />
      <Legend x={1486} y={1562} />
      <T x={1600} y={1517} s={44} a="middle" i>Wnt7b</T>
      <T x={1417} y={1694} s={38.5} a="middle" r={-90}>Fold change</T>
      <Stars t="*" x={1638.8} y={1574} x1={1608} x2={1673.5} />

      {/* Fgf10 lower */}
      <DotPlot vals={fBVals} jit={fBJit} mean={fBMean} hi={fBHi} lo={fBLo} ax={1817.5} x0={1844} x1={2006} xStart={1812} xEnd={2033.5}
        yDom={[0, 4]} yRng={[1831.3, 1556.7]} ticks={ticksFold4} labels={ticksFold4.map(String)} half={24.3} jitPx={12}
        cats={cats2} catX={[1888, 1997]} catY={[1858, 1852]} />
      <Legend x={1833} y={1555} />
      <T x={1944} y={1517} s={44} a="middle" i>Fgf10</T>
      <T x={1764} y={1696} s={38.5} a="middle" r={-90}>Fold change</T>
      <Stars t="***" x={1978} y={1591} x1={1946} x2={2012} />
    </svg>
  );
}
